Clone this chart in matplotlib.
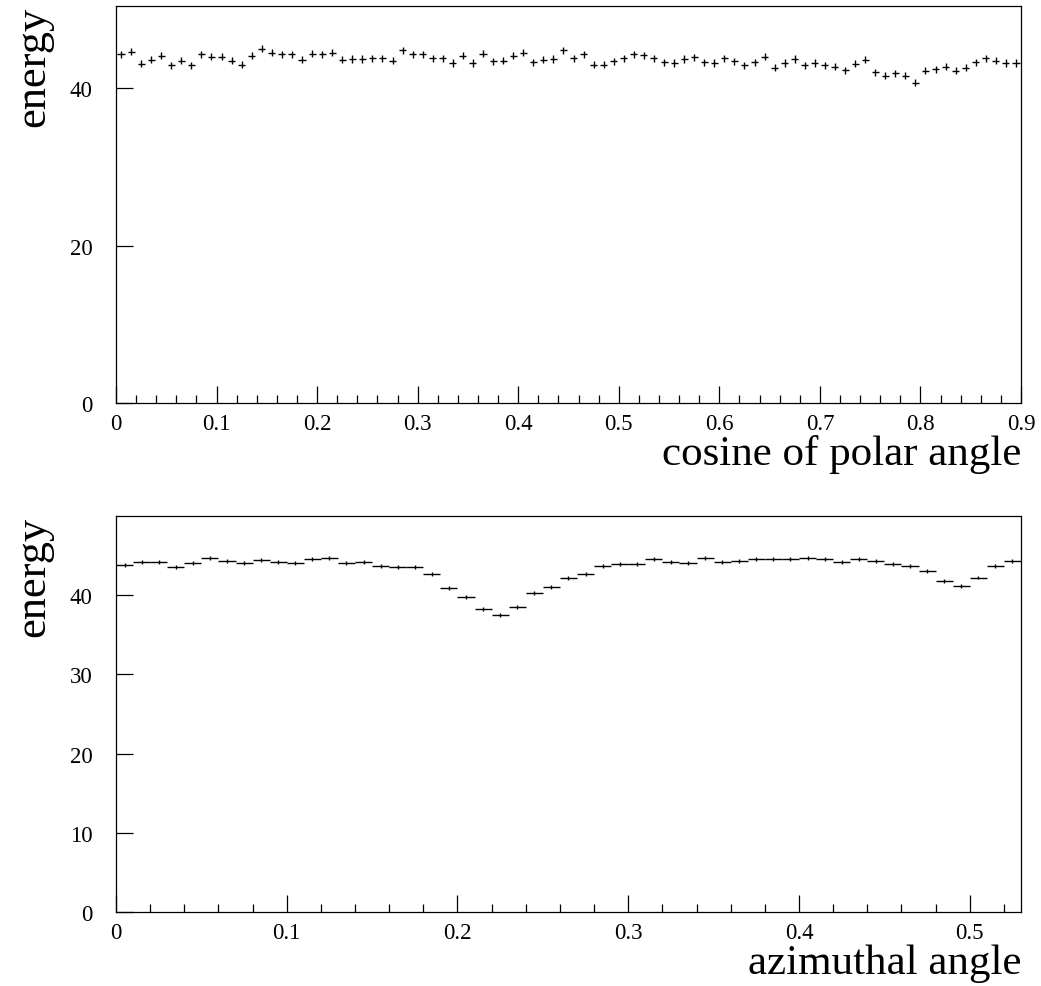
import numpy as np
import matplotlib
matplotlib.use('Agg')
import matplotlib.pyplot as plt
from matplotlib.ticker import MultipleLocator

plt.rcParams['font.family'] = ['Liberation Serif', 'DejaVu Serif']

# ---- data ----
# top: 90 bins of 0.01 in cos(polar angle)
cos_edges_lo = 0.0
cos_edges_hi = 0.9
cos_energy = [
    44.3, 44.6, 43.1, 43.6, 44.1, 42.9, 43.5, 42.9, 44.3, 44.0,
    44.0, 43.5, 43.0, 44.1, 45.0, 44.5, 44.3, 44.3, 43.6, 44.4,
    44.3, 44.5, 43.6, 43.7, 43.7, 43.8, 43.8, 43.5, 44.8, 44.3,
    44.3, 43.8, 43.8, 43.2, 44.1, 43.2, 44.4, 43.4, 43.5, 44.1,
    44.5, 43.3, 43.6, 43.7, 44.8,
    43.8, 44.3, 43.0, 43.0, 43.4, 43.8, 44.3, 44.2, 43.8, 43.3,
    43.2, 43.7, 43.9, 43.3, 43.2, 43.8, 43.4, 42.9, 43.3, 44.0,
    42.6, 43.2, 43.7, 42.9, 43.2, 42.9, 42.7, 42.3, 43.1, 43.6,
    42.0, 41.6, 41.9, 41.6, 40.7, 42.2, 42.4, 42.7, 42.2, 42.6,
    43.3, 43.8, 43.5, 43.2, 43.2,
]
cos_err = 0.45

# bottom: 53 bins of 0.01 in azimuthal angle
phi_edges_lo = 0.0
phi_edges_hi = 0.53
phi_energy = [
    43.8, 44.1, 44.1, 43.5, 44.0, 44.6, 44.3, 44.0, 44.4, 44.1,
    44.0, 44.5, 44.6, 44.0, 44.1, 43.6, 43.5, 43.5, 42.6, 40.9,
    39.7, 38.2, 37.5, 38.5, 40.2, 41.0, 42.1, 42.6, 43.6, 43.9,
    43.9, 44.5, 44.1, 44.0, 44.6, 44.2, 44.3, 44.5, 44.5, 44.5,
    44.7, 44.5, 44.2, 44.5, 44.3, 43.9, 43.6, 43.0, 41.8, 41.1,
    42.2, 43.6, 44.3,
]
phi_err = 0.25


def bin_centres(lo, hi, n):
    edges = np.linspace(lo, hi, n + 1)
    return 0.5 * (edges[:-1] + edges[1:]), (hi - lo) / n


def root_style(ax, xmax, ymax, ymajor):
    # ROOT-ish frame: ticks inside, only on left/bottom
    ax.set_xlim(0, xmax)
    ax.set_ylim(0, ymax)
    ax.xaxis.set_major_locator(MultipleLocator(0.1))
    ax.xaxis.set_minor_locator(MultipleLocator(0.02))
    ax.yaxis.set_major_locator(MultipleLocator(ymajor))
    ax.tick_params(axis='both', which='both', direction='in',
                   top=False, right=False, width=0.9, labelsize=16.5)
    ax.tick_params(axis='x', which='major', length=12, pad=7)
    ax.tick_params(axis='x', which='minor', length=6)
    ax.tick_params(axis='y', which='major', length=12, pad=17)
    for s in ax.spines.values():
        s.set_linewidth(0.9)
    ax.xaxis.set_major_formatter(plt.FuncFormatter(
        lambda v, p: '0' if abs(v) < 1e-9 else '%g' % round(v, 3)))


fig = plt.figure(figsize=(10.41, 9.87), dpi=100)

ax1 = fig.add_axes([0.1114, 0.5907, 0.8694, 0.4019])
x1, w1 = bin_centres(cos_edges_lo, cos_edges_hi, len(cos_energy))
ax1.errorbar(x1, cos_energy, xerr=0.35 * w1, yerr=cos_err, fmt='none',
             ecolor='black', elinewidth=1.0, capsize=0)
root_style(ax1, 0.9, 50.4, 20)
ax1.set_xlabel('cosine of polar angle', fontsize=31, loc='right', labelpad=0)
ax1.set_ylabel('energy', fontsize=32, loc='top', labelpad=12)

ax2 = fig.add_axes([0.1114, 0.0745, 0.8694, 0.4017])
x2, w2 = bin_centres(phi_edges_lo, phi_edges_hi, len(phi_energy))
ax2.errorbar(x2, phi_energy, xerr=0.5 * w2, yerr=phi_err, fmt='none',
             ecolor='black', elinewidth=1.0, capsize=0)
# stop just under 50 so no top label (ROOT leaves it off)
root_style(ax2, 0.53, 49.95, 10)
ax2.set_xlabel('azimuthal angle', fontsize=31, loc='right', labelpad=0)
ax2.set_ylabel('energy', fontsize=32, loc='top', labelpad=12)

fig.savefig('out.png', dpi=100)
